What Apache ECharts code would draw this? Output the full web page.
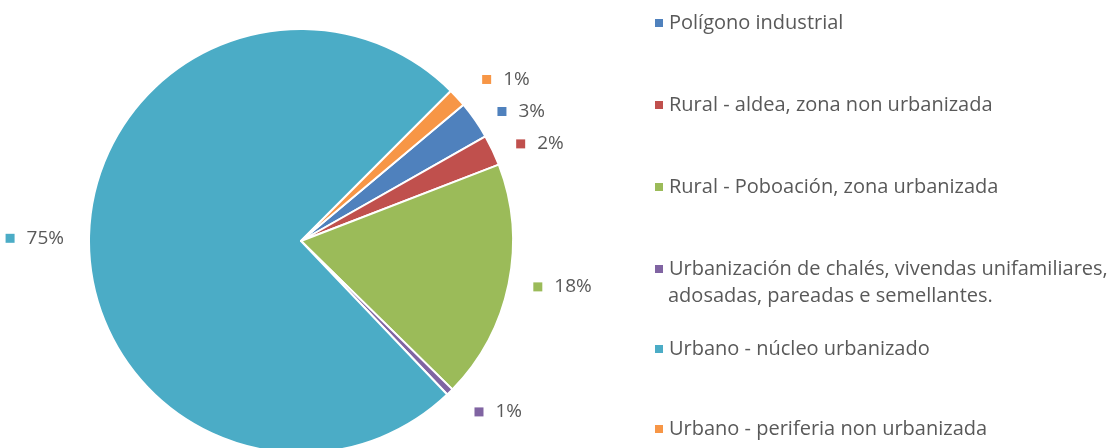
<!DOCTYPE html>
<html>
<head>
<meta charset="utf-8">
<script src="https://cdn.jsdelivr.net/npm/echarts@6/dist/echarts.min.js"></script>
<style>
  html, body { margin: 0; padding: 0; background: #fff; }
  #chart { width: 1113px; height: 448px; }
</style>
</head>
<body>
<div id="chart"></div>
<script>
// categorías e valores (%)
var categorias = [
    'Polígono industrial',
    'Rural - aldea, zona non urbanizada',
    'Rural - Poboación, zona urbanizada',
    'Urbanización de chalés, vivendas unifamiliares, adosadas, pareadas e semellantes.',
    'Urbano - núcleo urbanizado',
    'Urbano - periferia non urbanizada'
];
var valores = [2.9, 2.35, 18.2, 0.55, 74.6, 1.4];
var cores = ['#4F81BD', '#C0504D', '#9BBB59', '#8064A2', '#4BACC6', '#F79646'];

var fonte = 'Open Sans';
var corTexto = '#595959';
var fonteLenda = 20;
var fonteEtiq = 19;

var chart = echarts.init(document.getElementById('chart'));

var rich = {};
cores.forEach(function(c, i) {
    rich['sq' + i] = { width: 9, height: 9, backgroundColor: c };
});
rich.t = { fontFamily: fonte, fontSize: fonteEtiq, color: corTexto, padding: [0, 0, 0, 12] };

// o nome longo vai en dúas liñas na lenda
function liñas(nome) {
    var k = nome.indexOf(', adosadas');
    if (k < 0) return [nome];
    return [nome.slice(0, k + 1), nome.slice(k + 2)];
}

// unha lenda por elemento para poder colocalas como no orixinal
var lendaTops = [4, 86, 168, 250, 330, 410];
var lendas = categorias.map(function(nome, i) {
    return {
        orient: 'vertical',
        left: 648,
        top: lendaTops[i],
        icon: 'rect',
        itemWidth: 10,
        itemHeight: 10,
        data: [nome],
        selectedMode: false,
        formatter: function(n) { return liñas(n)[0]; },
        textStyle: {
            fontFamily: fonte,
            fontSize: fonteLenda,
            color: corTexto,
            lineHeight: 28
        }
    };
});

// liña de etiqueta (oculta) un pouco máis longa nas porcións pequenas
var liñaEtiq = { 3: { length: 28, length2: 0 }, 5: { length: 27, length2: 0 } };

var option = {
    animation: false,
    color: cores,
    legend: lendas,
    graphic: [{
        type: 'text',
        x: 668,
        y: 296,
        style: {
            text: liñas(categorias[3])[1],
            fontFamily: fonte,
            fontSize: fonteLenda,
            fill: corTexto,
            verticalAlign: 'middle'
        }
    }],
    series: [{
        type: 'pie',
        center: [301, 241],
        radius: 212,
        startAngle: 40,
        clockwise: true,
        avoidLabelOverlap: true,
        itemStyle: { borderColor: '#fff', borderWidth: 2 },
        label: {
            show: true,
            position: 'outside',
            formatter: function(p) {
                return '{sq' + p.dataIndex + '|}{t|' + Math.round(p.percent) + '%}';
            },
            rich: rich
        },
        labelLine: { show: false, length: 15, length2: 5 },
        data: categorias.map(function(n, i) {
            var d = { name: n, value: valores[i] };
            if (liñaEtiq[i]) d.labelLine = { show: false, length: liñaEtiq[i].length, length2: liñaEtiq[i].length2 };
            return d;
        })
    }]
};
chart.setOption(option);
</script>
</body>
</html>
